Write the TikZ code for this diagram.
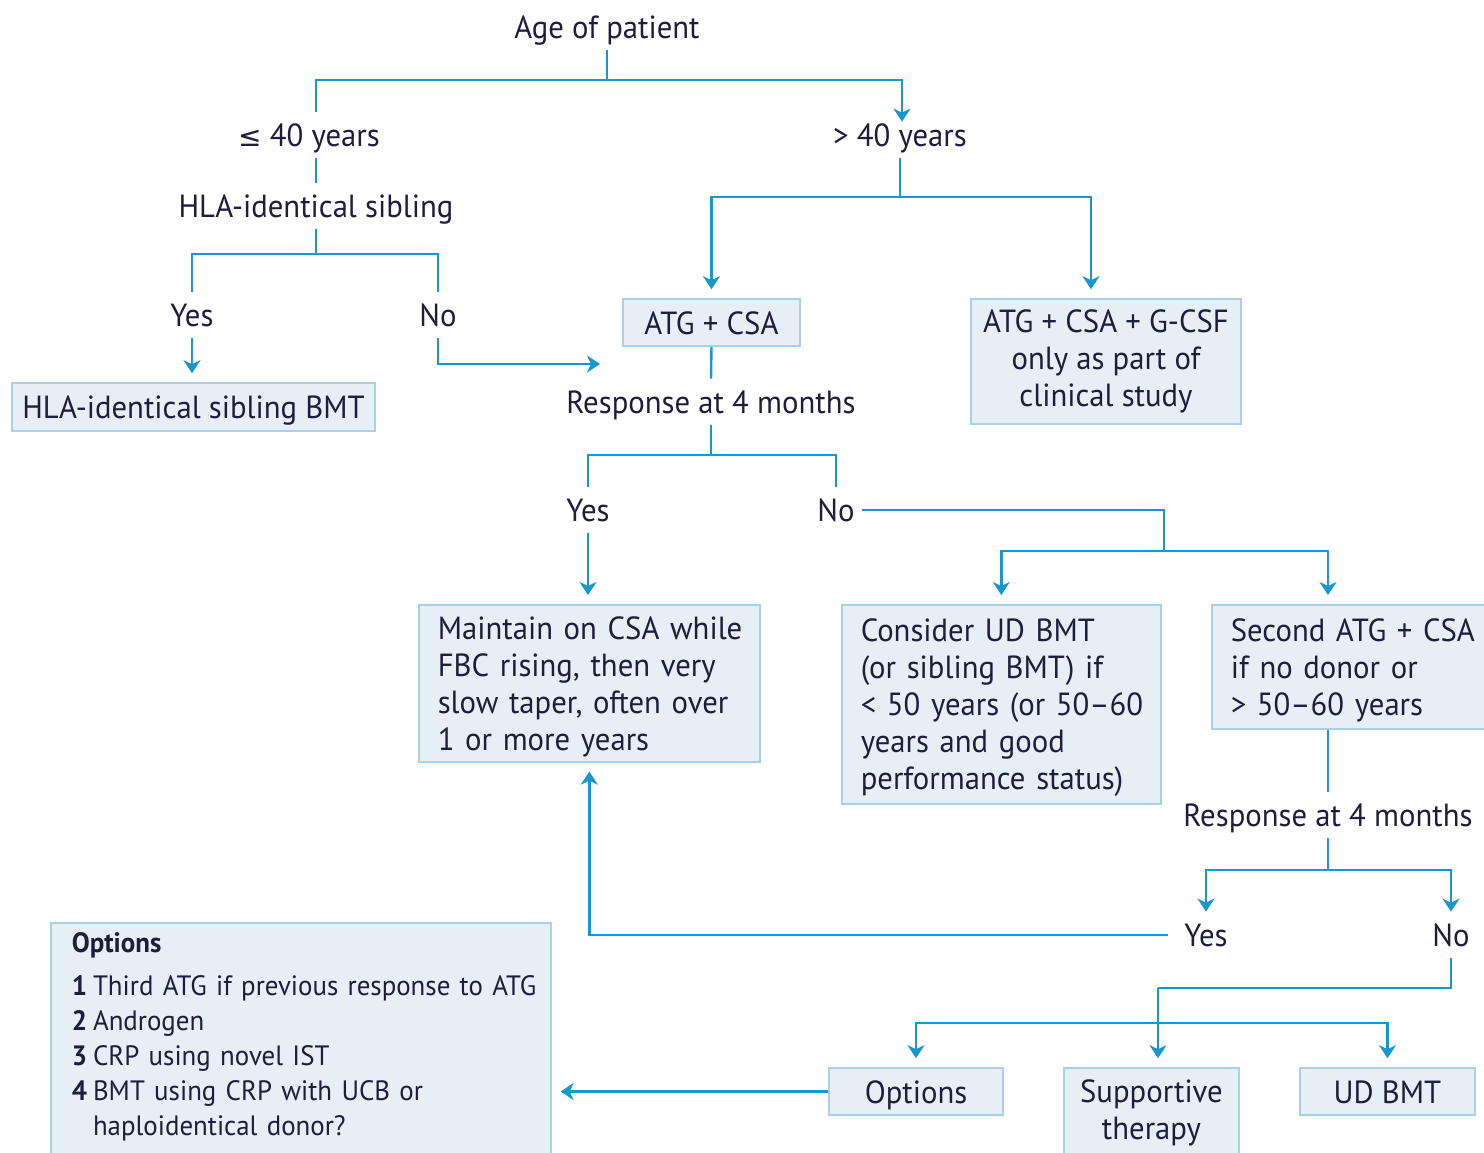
\documentclass[tikz,border=0pt]{standalone}
\usepackage{fontspec}
\setmainfont{PT Sans}[FakeStretch=0.96]
\newfontfamily\symfont{DejaVu Sans}
\usetikzlibrary{arrows.meta,calc}
\definecolor{ln}{HTML}{1A96CF}
\definecolor{bfill}{HTML}{E6EFF6}
\definecolor{bdraw}{HTML}{A9D0E6}
\definecolor{txt}{HTML}{1E1E3C}
\newcommand\topstrut{\rule{0pt}{17pt}}
\begin{document}
\begin{tikzpicture}[x=0.5pt,y=-0.5pt,
  font=\fontsize{16}{18.5}\selectfont, text=txt,
  lbl/.style={inner sep=0pt, inner xsep=3.5pt, minimum height=23pt, text height=12pt, text depth=0.5pt},
  box/.style={draw=bdraw, fill=bfill, line width=0.8pt, inner sep=0pt},
  one/.style={text height=12pt, text depth=0.5pt},
  con/.style={draw=ln, line width=1.2pt},
  arr/.style={con, -{Stealth[length=6.5pt,width=8.5pt,inset=2pt]}},
  arrb/.style={arr, shorten >=4.5pt}]
\useasboundingbox (0,0) rectangle (1484,1152);
\fill[white] (0,0) rectangle (1484,1152);

% labels
\node[lbl] (age) at (607,27) {Age of patient};
\node[lbl] (le40) at (309,135) {{\symfont\fontsize{14}{16}\selectfont ≤} 40 years};
\node[lbl] (gt40) at (900,135) {> 40 years};
\node[lbl] (hla) at (316,206) {HLA-identical sibling};
\node[lbl] (yes1) at (192,315) {Yes};
\node[lbl] (no1) at (438,315) {No};
\node[lbl] (resp1) at (711,402) {Response at 4 months};
\node[lbl] (yes2) at (588,510) {Yes};
\node[lbl] (no2) at (836,510) {No};
\node[lbl] (resp2) at (1328,815) {Response at 4 months};
\node[lbl] (yes3) at (1206,935) {Yes};
\node[lbl] (no3) at (1451,935) {No};

% boxes
\node[box, one, minimum width=181.5pt, minimum height=24pt] (sib) at (193.5,407) {HLA-identical sibling BMT};
\node[box, one, minimum width=88.5pt, minimum height=23.5pt] (atg) at (711.5,322.5) {ATG + CSA};
\node[box, minimum width=135pt, minimum height=62.5pt, align=center] (gcsf) at (1106,361.5) {ATG + CSA + G-CSF\\only as part of\\clinical study};
\node[box, anchor=north west, text width=151.5pt, inner xsep=9.5pt, minimum height=78.5pt, align=left] (maint) at (418,604) {%
  \begin{tabular}{@{}l@{}}\topstrut Maintain on CSA while\\FBC rising, then very\\slow taper, often over\\1 or more years\end{tabular}};
\node[box, anchor=north west, text width=140.5pt, inner xsep=9.5pt, minimum height=99.5pt, align=left] (cons) at (841,604) {%
  \begin{tabular}{@{}l@{}}\topstrut Consider UD BMT\\(or sibling BMT) if\\< 50 years (or 50--60\\years and good\\performance status)\end{tabular}};
\node[box, anchor=north west, text width=135pt, inner xsep=9.5pt, minimum height=62pt, align=left] (sec) at (1211,604) {%
  \begin{tabular}{@{}l@{}}\topstrut Second ATG + CSA\\if no donor or\\> 50--60 years\end{tabular}};
\node[box, one, minimum width=87pt, minimum height=23.5pt] (opt) at (916,1091.5) {Options};
\node[box, minimum width=87.5pt, minimum height=60pt, align=center] (supp) at (1151.5,1128) {Supportive\\therapy\\\mbox{}};
\node[box, one, minimum width=87.5pt, minimum height=23.5pt] (ud) at (1387.5,1091.5) {UD BMT};
\node[box, anchor=north west, text width=229pt, inner xsep=10.5pt, inner ysep=2.5pt, align=left,
      font=\fontsize{14}{17.5}\selectfont] (bigopt) at (50,922) {%
  \begin{tabular}{@{}l@{\hspace{3pt}}l@{}}
  \multicolumn{2}{@{}l@{}}{\bfseries Options}\\[4pt]
  \bfseries 1 & Third ATG if previous response to ATG\\
  \bfseries 2 & Androgen\\
  \bfseries 3 & CRP using novel IST\\
  \bfseries 4 & BMT using CRP with UCB or\\
              & haploidentical donor?\\
              & \\
  \end{tabular}};

% connectors
\coordinate (j0) at (607,80);
\draw[con] (age.south) -- (j0) -| ([xshift=3.5pt]le40.north);
\draw[arr, shorten >=-5pt] (j0) -| ([xshift=1pt]gt40.north);
\draw[con] ([xshift=3.5pt]le40.south) -- (hla.north);
\coordinate (j1) at (316,254);
\draw[con] (hla.south) -- (j1);
\draw[con] (yes1.north) |- (j1) -| (no1.north);
\draw[arrb] (yes1.south) -- (yes1.south |- sib.north);
\coordinate (c1) at (600,364);
\draw[arr] (no1.south) |- (c1);

\coordinate (j2) at (900,197);
\draw[con] (gt40.south) -- (j2);
\draw[arrb] (j2) -| (atg.north);
\draw[arrb] (j2) -| ([xshift=-7.5pt]gcsf.north);
\draw[con] (atg.south) -- (resp1.north);
\coordinate (j3) at (711,455);
\draw[con] (resp1.south) -- (j3);
\draw[con] (yes2.north) |- (j3) -| (no2.north);
\draw[arrb] (yes2.south) -- (yes2.south |- maint.north);
\coordinate (j4) at (1164,551);
\draw[con] (no2.east) -| (j4);
\draw[arrb] (j4) -| (cons.north);
\draw[arrb] (j4) -| (resp2.north |- sec.north);
\draw[con] (resp2.north |- sec.south) -- (resp2.north);
\coordinate (j5) at (1328,870);
\draw[con] (resp2.south) -- (j5);
\draw[arr] (j5) -| (yes3.north);
\draw[arr] (j5) -| (no3.north);
\draw[arrb] ([xshift=-4.5pt]yes3.west) -| (maint.south);
\coordinate (j6) at (1158,988);
\draw[con] (no3.south) |- (j6);
\draw[arrb] (j6) -- (j6 |- supp.north);
\coordinate (j7) at (1158,1023);
\draw[arrb] (j7) -| (opt.north);
\draw[arrb] (j7) -| (ud.north);
\draw[arrb] (opt.west) -- (opt.west -| bigopt.east);
\end{tikzpicture}
\end{document}
